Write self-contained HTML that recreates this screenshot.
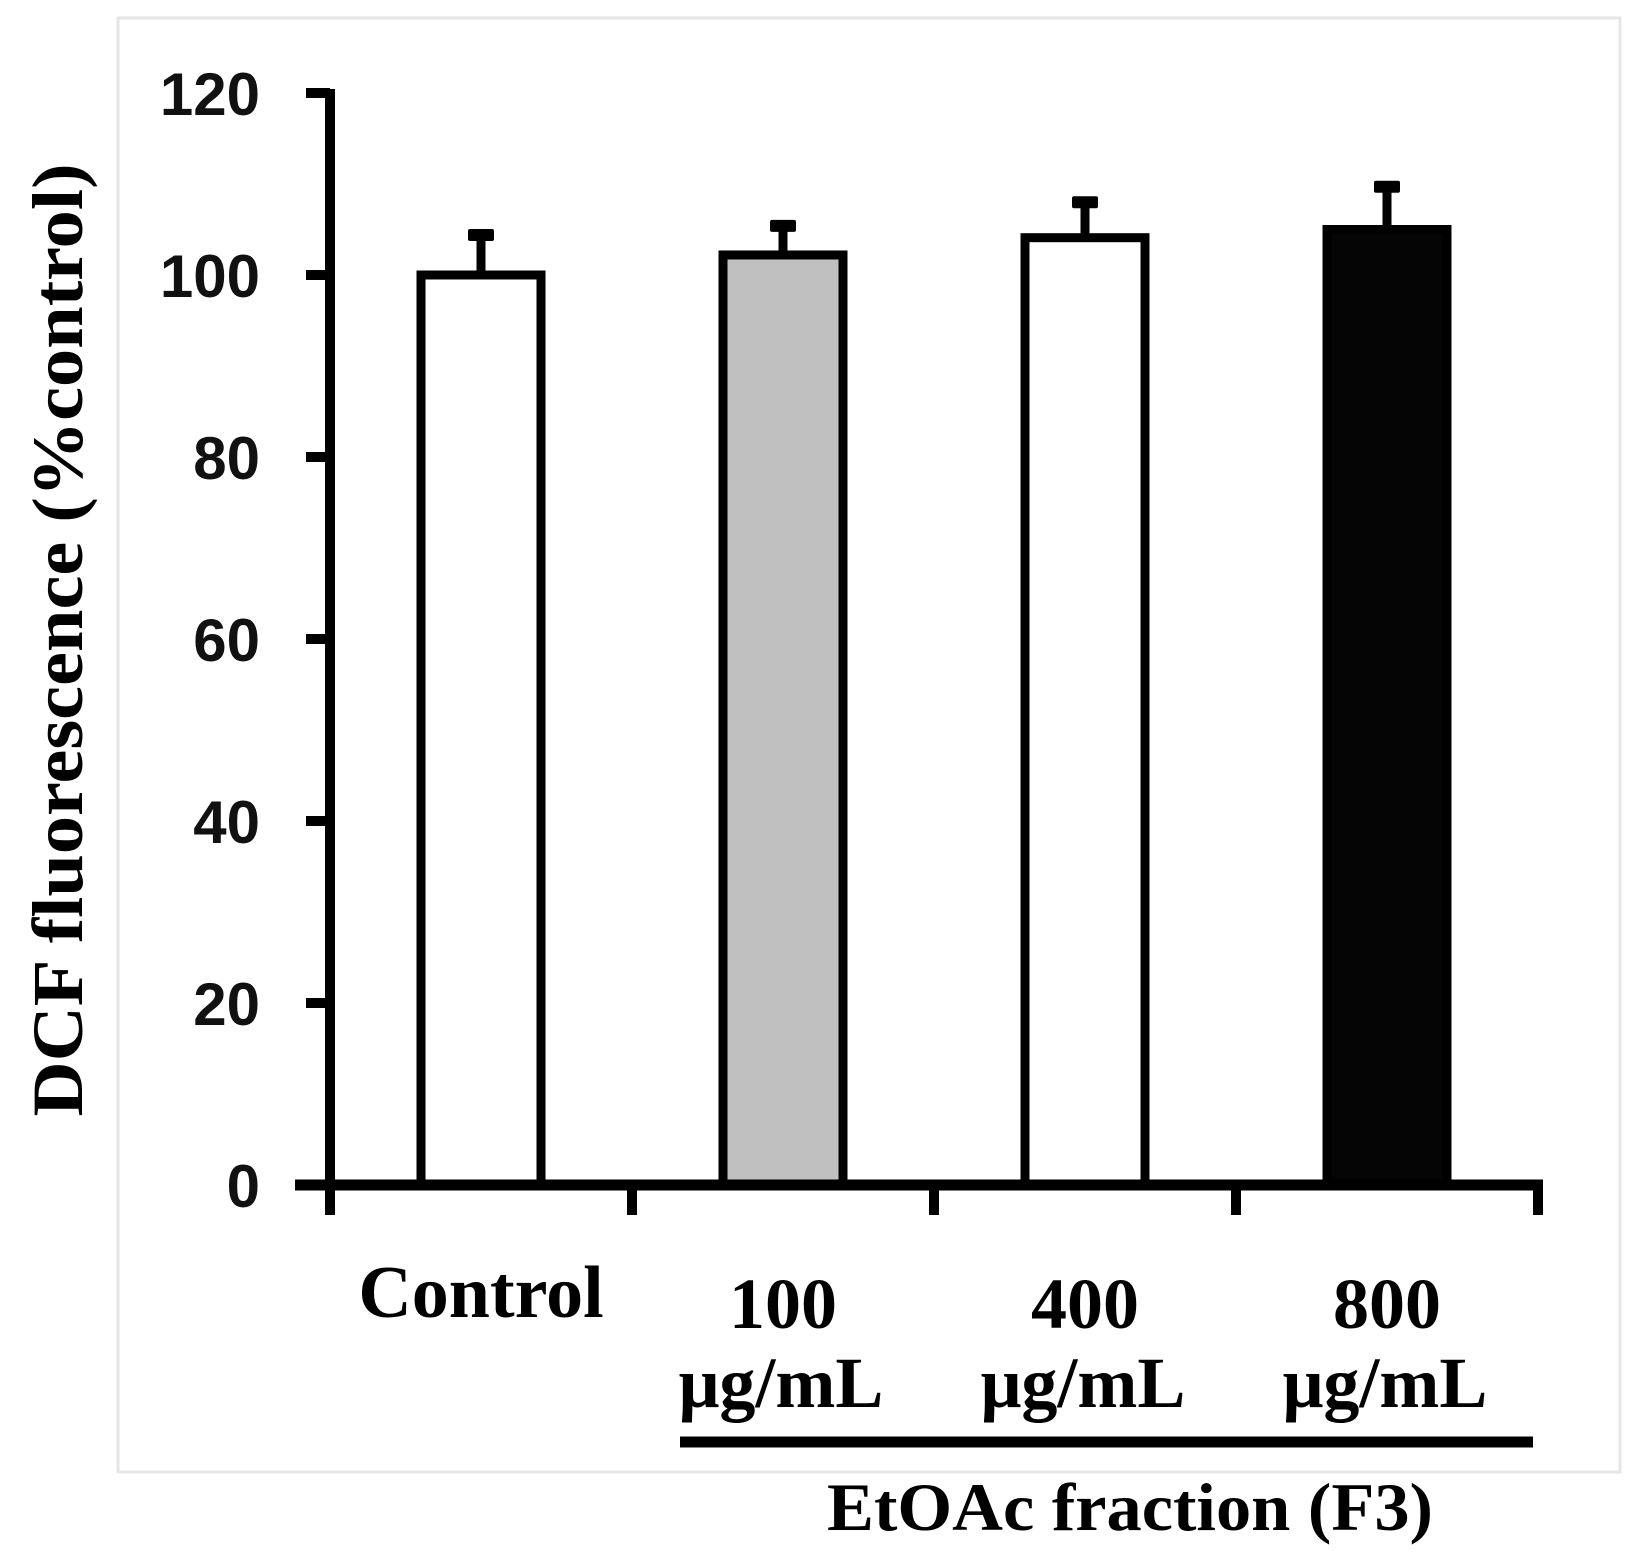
<!DOCTYPE html>
<html><head><meta charset="utf-8"><style>
html,body{margin:0;padding:0;background:#fff}
svg{display:block}
</style></head><body>
<svg id="chart" width="1626" height="1560" viewBox="0 0 1626 1560" xmlns="http://www.w3.org/2000/svg">
<rect x="118" y="18" width="1502" height="1454" fill="#fff" stroke="#e6e6e6" stroke-width="3"/>
<g id="plot"></g>
</svg>
<script>
const categories = ["Control", "100", "400", "800"];
const subLabels = ["", "μg/mL", "μg/mL", "μg/mL"];
const values = [100, 102.2, 104.1, 105.0];
const errors = [4.4, 3.2, 3.9, 4.7];
const fills = ["#ffffff", "#c0c0c0", "#ffffff", "#050505"];
const yTicks = [0, 20, 40, 60, 80, 100, 120];

const NS = "http://www.w3.org/2000/svg";
const g = document.getElementById("plot");
const X0 = 330, Y0 = 1185, PX = 9.1, STEP = 302, BW = 120;
function y(v){ return Y0 - v*PX; }
function xc(i){ return X0 + STEP*(i+0.5); }
function mk(tag, attrs, text){
  const e = document.createElementNS(NS, tag);
  for (const k in attrs) e.setAttribute(k, attrs[k]);
  if (text !== undefined) e.textContent = text;
  g.appendChild(e); return e;
}
let e = mk("line",{x1:X0,y1:y(120)-4,x2:X0,y2:Y0+5,stroke:"#000","stroke-width":10});


yTicks.forEach(t=>{
  let l = mk("line",{x1:306,y1:y(t),x2:X0,y2:y(t),stroke:"#000","stroke-width":10});
  
  
  let tx = mk("text",{x:260,y:y(t)+22,"text-anchor":"end","font-family":"Liberation Sans, sans-serif","font-weight":"bold","font-size":60,fill:"#111"}, String(t));
  
  
});
categories.forEach((c,i)=>{
  const cx = xc(i);
  let el = mk("line",{x1:cx,y1:y(values[i]+errors[i]),x2:cx,y2:y(values[i]),stroke:"#000","stroke-width":9});
  
  
  let cap = mk("rect",{x:cx-13,y:y(values[i]+errors[i])-6,width:26,height:12,fill:"#000",rx:2});
  
  
  let b = mk("rect",{x:cx-BW/2,y:y(values[i]),width:BW,height:Y0-y(values[i]),fill:fills[i],stroke:"#000","stroke-width":9});
  
  
  let t = mk("text",{x:cx,y:i===0?1317:1328,"text-anchor":"middle","font-family":"Liberation Serif, serif","font-weight":"bold","font-size":i===0?74:72,fill:"#000"}, c);
  
  
  if (subLabels[i]) {
    let s = mk("text",{x:cx-2,y:1407,"text-anchor":"middle","font-family":"Liberation Serif, serif","font-weight":"bold","font-size":72,fill:"#000"}, subLabels[i]);
    
    
  }
});
e = mk("line",{x1:295,y1:Y0,x2:X0+STEP*4+5,y2:Y0,stroke:"#000","stroke-width":11});


for (let k=0;k<=4;k++){
  let tk = mk("line",{x1:X0+STEP*k,y1:Y0,x2:X0+STEP*k,y2:1215,stroke:"#000","stroke-width":10});
  
  
}
e = mk("line",{x1:680,y1:1442,x2:1533,y2:1442,stroke:"#000","stroke-width":11});


e = mk("text",{x:1130,y:1530,"text-anchor":"middle","font-family":"Liberation Serif, serif","font-weight":"bold","font-size":68,textLength:606,lengthAdjust:"spacingAndGlyphs",fill:"#000"},"EtOAc fraction (F3)");


e = mk("text",{x:0,y:0,transform:"translate(82,640) rotate(-90)","text-anchor":"middle","font-family":"Liberation Serif, serif","font-weight":"bold","font-size":72,textLength:953,lengthAdjust:"spacingAndGlyphs",fill:"#000"},"DCF fluorescence (%control)");


</script>
</body></html>
